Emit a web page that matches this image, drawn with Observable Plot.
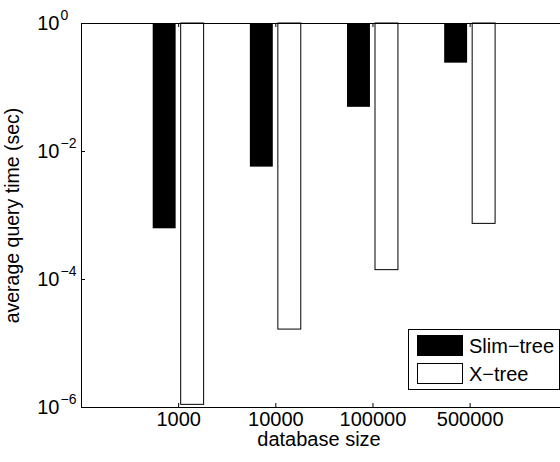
<!DOCTYPE html>
<html>
<head>
<meta charset="utf-8">
<script src="https://cdn.jsdelivr.net/npm/d3@7"></script>
<script src="https://cdn.jsdelivr.net/npm/@observablehq/plot@0.6"></script>
<style>
  html, body { margin: 0; padding: 0; background: #fff; }
  #wrap { position: relative; width: 560px; height: 462px; font-family: "Liberation Sans", Arial, sans-serif; }
  #legend { position: absolute; left: 408px; top: 329px; width: 150px; height: 59px; border: 1px solid #000; background: #fff; }
  .sw { position: absolute; left: 8px; width: 46px; height: 21px; box-sizing: border-box; }
  .lab { position: absolute; left: 60px; font-size: 20px; line-height: 20px; color: #000; white-space: nowrap; }
</style>
</head>
<body>
<div id="wrap"></div>
<script>
// ---- data ----
const sizes = ["1000", "10000", "100000", "500000"];
const seriesNames = ["Slim\u2212tree", "X\u2212tree"];
const slimTree = [6.2e-4, 5.7e-3, 4.9e-2, 0.24];
const xTree = [1.1e-6, 1.65e-5, 1.4e-4, 7.4e-4];
const yTicks = [1, 1e-2, 1e-4, 1e-6];
const yExp = ["0", "\u22122", "\u22124", "\u22126"];

const rows = [];
sizes.forEach((s, i) => {
  rows.push({size: s, idx: i, series: 0, value: slimTree[i]});
  rows.push({size: s, idx: i, series: 1, value: xTree[i]});
});

const W = 560, H = 462;
const mL = 81, mT = 23, mB = 55, mR = 0;
const plotW = W - mL - mR, plotH = H - mT - mB;
const barW = 0.236, gap = 0.026;
const x1 = d => d.idx + 1 + (d.series === 0 ? -gap - barW : gap);
const x2 = d => x1(d) + barW;

const chart = Plot.plot({
  width: W, height: H,
  marginLeft: mL, marginRight: mR, marginTop: mT, marginBottom: mB,
  style: {fontFamily: "'Liberation Sans', Arial, sans-serif", fontSize: "20px", background: "#fff", color: "#000"},
  x: {type: "linear", domain: [0, 4.93], axis: null},
  y: {type: "log", domain: [1e-6, 1], axis: null},
  marks: [
    Plot.rect(rows.filter(d => d.series === 0), {x1, x2, y1: () => 1, y2: d => d.value, fill: "#000"}),
    Plot.rect(rows.filter(d => d.series === 1), {x1, x2, y1: () => 1, y2: d => d.value, fill: "#fff", stroke: "#000", strokeWidth: 1}),
    // frame (top, bottom, left)
    Plot.ruleY([1, 1e-6], {stroke: "#000", strokeWidth: 1}),
    Plot.ruleX([0], {stroke: "#000", strokeWidth: 1}),
    // inward ticks
    Plot.tickY(yTicks, {y: d => d, stroke: "#000", insetRight: plotW - 4}),
    Plot.tickX(sizes.map((s, i) => i + 1), {x: d => d, stroke: "#000", insetTop: plotH - 4}),
    Plot.tickX(sizes.map((s, i) => i + 1), {x: d => d, stroke: "#000", insetBottom: plotH - 4}),
    // y tick labels 10^k
    Plot.text(yTicks, {y: d => d, frameAnchor: "left", text: () => "10", textAnchor: "end", dx: -22, fontSize: 20, fill: "#000"}),
    Plot.text(yTicks, {y: d => d, frameAnchor: "left", text: (d, i) => yExp[i], textAnchor: "start", dx: -21, dy: -8, fontSize: 14, fill: "#000"}),
    // x tick labels
    Plot.text(sizes, {x: (d, i) => i + 1, frameAnchor: "bottom", text: d => d, dy: 18, fontSize: 20, fill: "#000"}),
    // axis titles
    Plot.text(["database size"], {frameAnchor: "bottom", text: d => d, textAnchor: "middle", dx: -2, dy: 38, fontSize: 20, fill: "#000"}),
    Plot.text(["average query time (sec)"], {frameAnchor: "left", text: d => d, textAnchor: "middle", rotate: -90, dx: -69, fontSize: 19.5, fill: "#000"})
  ]
});

const wrap = document.getElementById("wrap");
wrap.appendChild(chart);

// legend overlay inside plot area
const leg = document.createElement("div");
leg.id = "legend";
const fills = ["#000", "#fff"];
seriesNames.forEach((name, i) => {
  const sw = document.createElement("div");
  sw.className = "sw";
  sw.style.top = (5 + i * 28) + "px";
  sw.style.background = fills[i];
  sw.style.border = "1px solid #000";
  leg.appendChild(sw);
  const t = document.createElement("div");
  t.className = "lab";
  t.style.top = (6 + i * 28) + "px";
  t.textContent = name;
  leg.appendChild(t);
});
wrap.appendChild(leg);
</script>
</body>
</html>
